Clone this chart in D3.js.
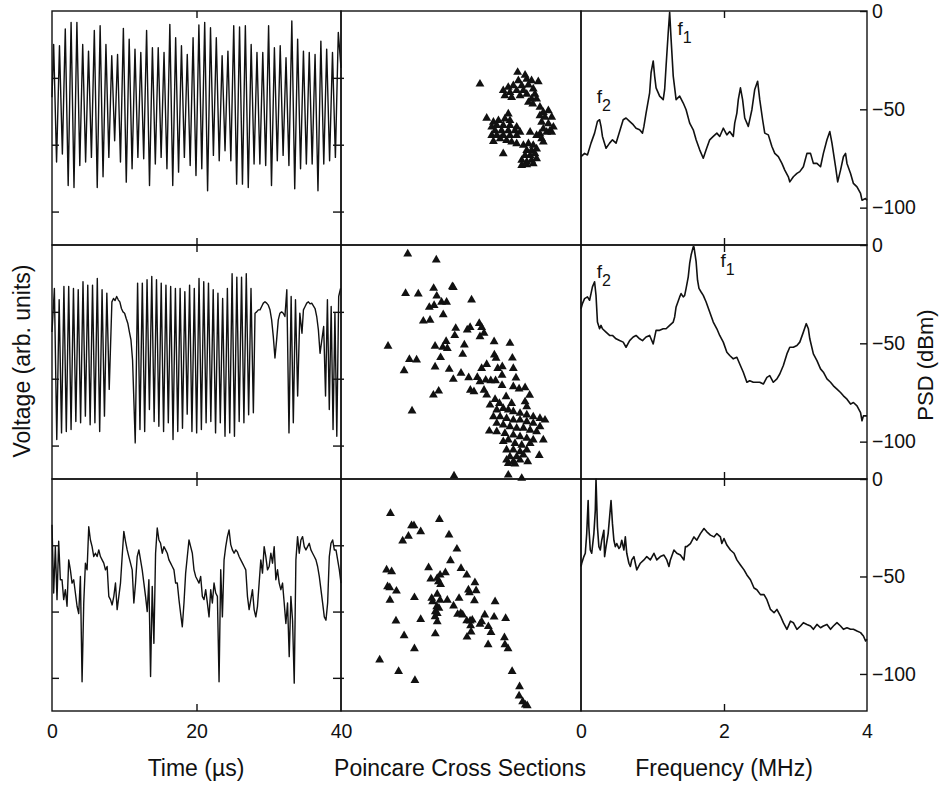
<!DOCTYPE html>
<html><head><meta charset="utf-8">
<script src="https://cdn.jsdelivr.net/npm/d3@7"></script>
<style>
body{margin:0;background:#fff;}
text{font-family:"Liberation Sans",Arial,Helvetica,sans-serif;fill:#111;}
</style></head>
<body><svg id="c" width="942" height="785"></svg>
<script>
// ---------------- DATA ----------------
const timeTicks = [0, 20, 40];
const freqTicks = [0, 2, 4];
const psdTicks = [0, -50, -100];
const voltTicks = [-1, 0, 1];

// Row 1 time series: alternating peaks/troughs (arb. units), first peak at 0.23 µs, half period 0.402 µs
const topStart = [0, 0.71];
const topEnd = [40, 1.15];
const topPeaks = [1.50,1.48,1.73,1.83,1.83,1.50,1.40,1.71,1.78,1.50,1.33,1.35,1.74,1.58,1.43,1.38,1.71,1.45,1.45,1.38,
  1.80,1.60,1.48,1.35,1.60,1.79,1.83,1.75,1.60,1.33,1.40,1.78,1.76,1.78,1.50,1.38,1.38,1.78,1.45,1.48,
  1.30,1.85,1.58,1.40,1.38,1.35,1.55,1.43,1.38,1.68];
const topTroughs = [-0.26,-0.14,-0.61,-0.64,-0.31,-0.26,-0.19,-0.64,-0.48,-0.19,0.06,-0.26,-0.56,-0.36,-0.19,-0.21,-0.61,-0.29,-0.19,-0.36,
  -0.61,-0.41,-0.19,-0.31,-0.46,-0.36,-0.69,-0.16,-0.24,-0.09,-0.24,-0.59,-0.59,-0.64,-0.29,-0.29,-0.31,-0.61,-0.24,-0.16,
  -0.31,-0.66,-0.36,-0.29,-0.29,-0.69,-0.29,-0.24,-0.19];
const topT0 = 0.23, topHalf = 0.402;

// Row 2 time series: runs of evenly spaced samples [start µs, step µs, values]
const midSegments = [
  [0, 0.33, [0.70,1.35,-0.91,1.18,-0.81,1.38,-0.79,1.38,-0.76,1.35,-0.64,1.33,-0.66,1.45,-0.56,1.40,-0.69,1.40,-0.66,1.50,-0.79,1.33,-0.56,1.28,-0.16]],
  [8.29, 0.22, [1.15,1.20,1.17,1.23,1.18,1.15,1.05,1.00,0.98,0.90,0.83,0.70,0.58,0.28]],
  [11.52, 0.327, [-0.96,1.43,-0.76,1.43,-0.79,1.48,-0.46,1.53,-0.64,1.48,-0.71,1.43,-0.79,1.40,-0.66,1.38,-0.91,1.35,-0.79,1.35,-0.74,1.30,-0.53,1.40,-0.79,1.35,-0.81,1.50,-0.76,1.45,-0.66,1.43,-0.64,1.33,-0.81,1.28,-0.66,1.20,-0.86,1.35,-0.81,1.57,-0.86,1.52,-0.64,1.52,-0.66,1.57,-0.54,1.35,-0.51]],
  [28.1, 0.23, [0.98,1.00,1.03,1.03,1.08,1.13,1.15,1.13,1.10,1.03,0.88,0.63,0.31,0.58,0.88,0.98,1.00,0.98,0.93]],
  [32.5, 0.30, [1.33,-0.81,1.23,-0.66,1.18,-0.26,0.98,0.68]],
  [34.8, 0.23, [1.03,1.08,1.13,1.15,1.12,1.13,1.09,1.05,0.93,0.73,0.38]],
  [37.6, 0.26, [0.78,-0.26,1.18,-0.46,1.08,-0.76,0.98,-0.86,1.23,1.35]]
];

// Row 3 time series: evenly sampled over 0–40 µs
const bottomV = [1.31,0.28,0.98,0.18,1.06,0.48,0.48,0.18,0.33,0.08,0.78,0.63,0.43,0.48,0.28,0.08,-0.03,0.53,-1.06,0.13,
  0.73,0.63,1.28,1.08,0.98,0.83,0.88,0.83,0.93,0.83,0.78,0.73,0.63,0.68,0.23,0.18,0.10,0.23,0.43,0.03,
  0.23,0.43,0.83,1.21,1.06,0.93,0.83,0.73,0.63,0.13,0.43,0.83,0.93,0.78,0.63,0.43,0.23,0.00,0.48,-0.98,
  0.38,-0.48,0.88,1.26,1.08,1.03,0.88,0.98,0.93,0.88,0.78,0.73,0.68,0.63,0.43,0.43,0.18,-0.03,-0.23,0.13,
  0.58,0.83,1.08,0.98,0.88,0.63,0.53,0.48,0.43,0.53,0.23,0.18,0.33,0.13,-0.08,0.33,0.13,0.43,0.28,0.23,
  -1.06,0.63,-0.08,0.78,0.98,1.13,1.23,1.01,0.93,0.88,0.93,0.90,0.83,0.78,0.73,0.68,0.63,0.23,0.03,0.18,
  0.33,0.03,-0.08,0.08,0.43,0.78,0.58,0.98,0.83,0.63,0.68,0.88,0.73,0.98,0.48,0.63,0.43,0.33,0.43,0.13,
  -0.18,0.13,-0.68,0.23,-0.13,-1.08,0.78,1.13,0.88,1.08,1.13,0.98,0.93,0.98,1.03,0.93,0.88,0.83,0.78,0.68,
  0.53,0.33,0.13,-0.08,-0.13,0.13,0.83,1.03,1.08,0.93,0.93,0.78,0.63,0.43];

// Poincaré sections (arbitrary units 0–100)
const poincareTop = [[73.6,73.8],[76.7,72.6],[73.9,70.2],[77.4,70.9],[79.4,70.2],[82.2,69.8],[71.8,68.1],[75.3,68.1],[78.1,68.4],[69.7,67.4],
  [67.6,66.0],[70.4,65.2],[73.2,66.0],[76.0,66.0],[80.1,66.7],[68.3,63.8],[71.1,63.1],[74.6,63.8],[77.4,64.5],[80.8,64.5],
  [79.4,62.4],[78.1,61.0],[81.5,62.4],[79.9,60.3],[57.9,68.8],
  [82.9,58.9],[86.4,57.4],[84.3,56.7],[82.9,55.3],[85.0,54.6],[87.8,54.6],[83.6,52.5],[86.4,51.8],[88.5,50.4],[84.3,49.6],
  [87.1,48.9],[82.9,47.5],[85.7,48.2],[87.8,48.2],[81.5,46.8],[84.3,44.0],[83.6,45.4],
  [60.7,54.2],[69.7,56.0],[63.5,52.5],[65.6,53.2],[68.3,53.9],[70.4,53.2],[62.8,50.4],[64.9,51.1],[67.6,51.1],[70.4,51.1],
  [73.2,50.4],[64.2,48.9],[66.9,48.9],[69.7,48.9],[72.5,48.9],[74.6,48.2],[62.8,46.8],[64.9,46.8],[67.6,46.8],[70.4,46.8],
  [73.2,46.8],[63.5,44.3],[66.3,45.4],[69.0,44.7],[71.1,44.0],[73.2,43.3],[78.8,48.2],
  [76.0,42.6],[78.1,43.3],[80.1,42.6],[77.4,40.4],[79.4,40.4],[81.5,41.1],[76.7,38.3],[78.8,38.3],[80.8,39.0],[75.3,36.2],
  [77.4,35.5],[79.4,36.2],[75.3,34.0],[77.4,34.3],[80.1,34.8],[67.6,39.0],[81.5,36.9]];
const poincareMid = [[27.8,96.2],[39.7,93.6],[26.9,79.3],[32.2,79.1],[38.6,81.5],[46.4,82.2],[46.8,81.9],[39.9,78.2],[41.9,75.6],[44.0,75.6],
  [54.4,76.5],[36.8,73.4],[38.8,74.2],[42.6,70.2],[34.3,67.5],[37.1,67.9],[47.8,64.4],[47.4,61.3],[52.6,63.7],[53.8,64.8],
  [57.6,66.5],[58.6,64.8],[57.9,60.8],[59.6,62.3],[19.6,56.8],[39.2,56.8],[42.4,56.3],[43.8,58.8],[44.3,55.8],[51.4,57.3],
  [63.8,58.7],[70.4,58.0],[28.5,51.1],[31.5,50.9],[41.5,51.9],[50.7,53.3],[63.9,53.0],[64.6,51.6],[71.4,51.7],[26.3,46.3],
  [39.2,47.9],[45.1,46.9],[50.0,45.2],[60.7,49.0],[58.6,47.3],[65.3,47.3],[67.2,48.0],[71.8,47.3],[46.8,42.6],[53.2,43.3],
  [56.8,43.4],[57.9,41.6],[60.3,42.3],[62.4,42.0],[64.4,42.0],[67.1,44.4],[72.9,43.2],[38.5,35.9],[40.7,37.6],[53.9,38.0],
  [55.4,37.3],[59.6,38.0],[60.7,35.9],[67.1,40.0],[71.8,39.5],[74.2,38.5],[76.7,39.0],[78.6,35.8],[29.6,29.1],[62.1,31.6],
  [64.2,34.0],[66.0,32.3],[68.8,35.2],[71.1,32.3],[76.7,33.0],[77.4,30.9],
  [64.9,29.5],[67.6,30.2],[69.7,29.5],[71.8,28.8],[74.6,28.1],[77.4,27.4],[80.1,26.6],[82.9,25.9],[85.0,25.2],[63.5,26.6],
  [66.3,26.6],[69.0,25.9],[71.8,25.2],[74.6,25.2],[77.4,24.5],[80.1,23.8],[82.9,22.4],[64.9,23.8],[67.6,23.1],[70.4,22.4],
  [73.2,21.7],[76.0,21.7],[78.8,20.9],[81.5,20.2],[61.8,20.5],[64.9,20.2],[68.3,19.5],[71.8,18.8],[74.6,18.1],[77.4,17.4],
  [80.1,16.7],[84.3,16.7],[67.6,16.0],[69.7,16.7],[72.5,15.2],[75.3,14.5],[78.8,15.2],[69.0,12.4],[71.8,12.4],[74.6,11.7],
  [77.4,12.4],[70.4,9.5],[73.2,9.5],[76.0,10.3],[82.6,10.1],[69.0,8.1],[71.8,7.4],[74.6,8.1],[77.8,7.4],[69.7,6.7],
  [72.5,6.4],[47.1,1.3],[69.7,1.7],[75.3,0.3]];
const poincareBottom = [[20.6,85.2],[41.0,82.6],[29.4,79.9],[30.4,79.9],[28.1,75.4],[25.7,73.3],[33.2,77.3],[45.0,75.9],[48.3,69.8],[45.6,64.8],
  [19.0,60.8],[21.1,60.1],[36.5,61.8],[50.0,61.5],[37.4,56.9],[40.1,57.2],[41.3,58.6],[43.5,59.6],[40.6,55.7],[41.5,54.6],
  [52.4,58.6],[55.8,55.3],[56.3,51.9],[53.1,52.2],[53.5,51.0],[19.4,53.6],[20.3,53.2],[23.1,51.7],[20.4,47.8],[30.6,48.9],
  [37.8,48.6],[38.2,47.1],[40.1,50.4],[41.3,47.8],[44.3,47.8],[49.2,48.6],[55.6,47.6],[64.2,47.1],[46.9,45.3],[39.9,45.0],
  [40.8,44.3],[39.3,42.8],[40.1,42.1],[39.2,40.7],[40.1,38.5],[48.6,41.7],[49.9,42.1],[50.7,41.4],[52.4,38.9],[53.8,38.8],
  [54.7,39.2],[54.0,36.8],[57.9,37.4],[58.6,38.5],[59.9,41.4],[61.4,36.4],[63.8,40.5],[62.5,33.9],[68.6,39.9],[22.9,38.8],
  [33.2,39.5],[39.3,33.3],[54.2,34.1],[52.5,31.9],[26.3,32.5],[61.3,28.6],[68.1,31.6],[68.3,28.6],[69.6,26.9],[30.6,26.9],
  [16.1,22.0],[24.0,17.1],[30.8,13.2],[71.3,17.1],[74.4,10.5],[74.2,6.5],[75.7,4.0],[76.8,2.6],[77.6,2.3]];

// Power spectral density [MHz, dBm]
const psdTop = [[0,-74.1],[0.05,-72.4],[0.09,-73.2],[0.14,-67.2],[0.19,-62.1],[0.23,-56.1],[0.26,-55.3],[0.28,-58.7],[0.30,-63.8],[0.35,-69.8],
  [0.40,-67.2],[0.44,-65.5],[0.49,-67.2],[0.54,-61.3],[0.59,-55.3],[0.63,-54.4],[0.68,-56.1],[0.73,-57.8],[0.77,-59.6],[0.82,-60.4],
  [0.86,-62.1],[0.88,-58.7],[0.91,-51.9],[0.96,-41.6],[0.98,-31.4],[1.01,-25.4],[1.03,-33.1],[1.05,-39.1],[1.10,-43.3],[1.15,-45.1],
  [1.17,-39.9],[1.19,-28],[1.22,-10.9],[1.24,-0.7],[1.26,-14.3],[1.29,-33.1],[1.33,-45.1],[1.38,-43.3],[1.43,-46.8],[1.47,-50.2],
  [1.52,-57],[1.57,-60.4],[1.61,-65.5],[1.66,-70.6],[1.71,-74.9],[1.75,-70.6],[1.80,-65.5],[1.85,-63.8],[1.90,-62.1],[1.94,-63.8],
  [1.99,-59.6],[2.04,-63],[2.08,-61.3],[2.13,-63.8],[2.15,-57],[2.18,-51.9],[2.20,-45.1],[2.23,-39.1],[2.26,-45.1],[2.29,-54.4],
  [2.34,-58.7],[2.39,-50.2],[2.43,-39.9],[2.47,-35.7],[2.50,-45.1],[2.54,-55.3],[2.57,-62.1],[2.62,-63],[2.67,-68.9],[2.71,-72.4],
  [2.76,-74.1],[2.81,-77.5],[2.85,-80.9],[2.90,-84.3],[2.92,-86.9],[2.97,-84.3],[3.02,-82.6],[3.06,-81.7],[3.11,-79.2],[3.16,-72.4],
  [3.21,-72.4],[3.25,-77.5],[3.30,-77.5],[3.35,-79.2],[3.39,-72.4],[3.44,-65.5],[3.48,-61.3],[3.51,-67.2],[3.56,-79.2],[3.59,-86.9],
  [3.63,-80.9],[3.67,-74.1],[3.70,-72.4],[3.72,-77.5],[3.77,-82.6],[3.81,-87.7],[3.86,-89.4],[3.91,-92.8],[3.93,-96.2],[3.98,-95.4],[4.0,-96.2]];
const psdMid = [[0,-32.4],[0.02,-29.8],[0.05,-27.3],[0.09,-26.4],[0.12,-28.1],[0.14,-24.7],[0.16,-21.3],[0.19,-18.7],[0.21,-25.6],[0.23,-39.2],
  [0.26,-42.6],[0.28,-40.9],[0.30,-42.6],[0.35,-44.3],[0.40,-46],[0.44,-46],[0.49,-47.7],[0.54,-48.6],[0.59,-49.4],[0.63,-52],
  [0.68,-48.6],[0.73,-46.8],[0.77,-46],[0.82,-47.7],[0.86,-48.6],[0.91,-46.8],[0.96,-46],[1.01,-50.3],[1.05,-43.4],[1.10,-43.4],
  [1.15,-42.6],[1.19,-42.6],[1.24,-40.9],[1.29,-39.2],[1.31,-36.6],[1.33,-31.5],[1.38,-26.4],[1.40,-24.7],[1.43,-26.4],[1.45,-25.6],
  [1.47,-22.1],[1.50,-16.2],[1.52,-9.4],[1.54,-5.1],[1.57,-0.9],[1.58,-0.9],[1.61,-8.5],[1.63,-17.9],[1.65,-22.1],[1.68,-23.9],
  [1.71,-25.6],[1.75,-29],[1.80,-34.1],[1.85,-39.2],[1.90,-42.6],[1.94,-46],[1.99,-49.4],[2.04,-54.5],[2.08,-56.2],[2.13,-57.9],
  [2.18,-57.1],[2.22,-60.5],[2.27,-64.7],[2.32,-69.8],[2.36,-69],[2.41,-69.8],[2.46,-69.8],[2.50,-69.8],[2.55,-70.7],[2.60,-67.3],
  [2.64,-66.4],[2.69,-69.8],[2.74,-68.1],[2.78,-65.6],[2.83,-61.3],[2.88,-55.4],[2.92,-52],[2.97,-52],[3.02,-51.1],[3.06,-49.4],
  [3.11,-44.3],[3.15,-40],[3.18,-42.6],[3.20,-47.7],[3.25,-55.4],[3.30,-58.8],[3.35,-63],[3.39,-64.7],[3.44,-68.1],[3.49,-69.8],
  [3.53,-71.6],[3.58,-73.3],[3.63,-75],[3.67,-76.7],[3.72,-78.4],[3.77,-80.9],[3.81,-80.1],[3.86,-81.8],[3.91,-85.2],[3.93,-89.4],[3.95,-86.9],[4.0,-86.9]];
const psdBottom = [[0,-44.9],[0.01,-43.2],[0.04,-39.8],[0.06,-38.1],[0.08,-28],[0.10,-11],[0.11,-24.6],[0.13,-36.4],[0.15,-38.1],[0.18,-28],
  [0.20,-16.1],[0.21,0],[0.23,-24.6],[0.25,-34.7],[0.27,-36.4],[0.29,-31.4],[0.32,-26.3],[0.33,-39.8],[0.35,-34.7],[0.38,-28],
  [0.40,-19.5],[0.42,-11],[0.44,-22.9],[0.46,-31.4],[0.48,-34.7],[0.50,-33.1],[0.53,-35.6],[0.55,-34.7],[0.57,-31.4],[0.60,-36.4],
  [0.62,-29.7],[0.64,-38.1],[0.67,-43.2],[0.69,-44.9],[0.71,-41.5],[0.74,-39.8],[0.76,-43.2],[0.78,-46.6],[0.83,-43.2],[0.88,-41.5],
  [0.92,-39.8],[0.97,-41.5],[1.02,-38.1],[1.06,-41.5],[1.11,-39.8],[1.16,-39],[1.20,-41.5],[1.23,-44.9],[1.25,-41.5],[1.30,-36.4],
  [1.34,-38.1],[1.39,-39],[1.44,-41.5],[1.46,-34.7],[1.48,-34.7],[1.53,-33.1],[1.58,-29.7],[1.62,-31.4],[1.67,-28],[1.72,-25.4],
  [1.76,-27.1],[1.81,-28.8],[1.86,-29.7],[1.90,-28],[1.95,-29.7],[1.97,-33.1],[2.00,-30.5],[2.04,-33.9],[2.09,-36.4],[2.14,-38.1],
  [2.18,-41.5],[2.23,-44.1],[2.28,-46.6],[2.32,-49.2],[2.37,-51.7],[2.42,-55.9],[2.46,-56.8],[2.51,-59.3],[2.56,-59.3],[2.60,-61.9],
  [2.65,-66.9],[2.70,-68.6],[2.74,-66.9],[2.79,-70.3],[2.83,-73.7],[2.88,-77.1],[2.93,-72.9],[2.97,-73.7],[3.02,-77.1],[3.07,-75.4],
  [3.11,-73.7],[3.16,-74.6],[3.21,-75.4],[3.25,-77.1],[3.30,-74.6],[3.35,-76.3],[3.39,-75.4],[3.44,-74.6],[3.49,-77.1],[3.53,-75.4],
  [3.58,-73.7],[3.63,-75.4],[3.67,-77.1],[3.72,-76.3],[3.77,-77.1],[3.81,-77.1],[3.86,-78],[3.91,-78.8],[3.95,-80.5],[3.98,-83.1],[4.0,-82.2]];

// Peak annotations [MHz, dBm, subscript] per row
const annotTop = [[1.35, -12, "1"], [0.22, -47, "2"]];
const annotMid = [[0.22, -17, "2"], [1.95, -11, "1"]];

// ---------------- BUILD SERIES ----------------
const seriesTop = [topStart];
topPeaks.forEach((p, i) => {
  seriesTop.push([topT0 + 2 * i * topHalf, p]);
  if (i < topTroughs.length) seriesTop.push([topT0 + (2 * i + 1) * topHalf, topTroughs[i]]);
});
seriesTop.push(topEnd);
const seriesMid = [];
midSegments.forEach(([t0, dt, vals]) => vals.forEach((v, i) => seriesMid.push([t0 + i * dt, v])));
const seriesBottom = bottomV.map((v, i) => [i * 40 / (bottomV.length - 1), v]);

// ---------------- LAYOUT ----------------
const svg = d3.select("#c");
const X0 = 52, X1 = 341, X2 = 581, X3 = 867;
const rows = [[11, 245], [245, 479], [479, 711]];
const tScale = d3.scaleLinear([0, 40], [X0, X1]);
const fScale = d3.scaleLinear([0, 4], [X2, X3]);
const pX = d3.scaleLinear([0, 100], [X1, X2]);

const ts = [seriesTop, seriesMid, seriesBottom];
const ps = [poincareTop, poincareMid, poincareBottom];
const psd = [psdTop, psdMid, psdBottom];
const annots = [annotTop, annotMid, []];
const SW = 1.4;
const FONT = "Liberation Sans, Arial, sans-serif";

rows.forEach(([top, bot], r) => {
  const vScale = d3.scaleLinear([-1.5, 2.0], [bot, top]);
  const dbScale = d3.scaleLinear([-119, 0], [bot, top]);
  const pY = d3.scaleLinear([0, 100], [bot, top]);
  const g = svg.append("g");

  // time series
  g.append("path").datum(ts[r])
    .attr("d", d3.line().x(d => tScale(d[0])).y(d => vScale(d[1])))
    .attr("fill", "none").attr("stroke", "#111").attr("stroke-width", 1.4).attr("stroke-linejoin", "round");

  // poincare
  g.selectAll(".pt").data(ps[r]).join("path")
    .attr("transform", d => `translate(${pX(d[0])},${pY(d[1])})`)
    .attr("d", d3.symbol(d3.symbolTriangle, 34)())
    .attr("fill", "#111");

  // psd
  g.append("path").datum(psd[r])
    .attr("d", d3.line().x(d => fScale(d[0])).y(d => dbScale(d[1])))
    .attr("fill", "none").attr("stroke", "#111").attr("stroke-width", 1.6).attr("stroke-linejoin", "round");

  // annotations
  annots[r].forEach(([f, db, sub]) => {
    const t = g.append("text").attr("x", fScale(f)).attr("y", dbScale(db))
      .attr("font-size", 19);
    t.append("tspan").text("f");
    t.append("tspan").attr("dy", 8).attr("font-size", 16).text(sub);
  });

  // frames
  [[X0, X1], [X1, X2], [X2, X3]].forEach(([a, b]) => {
    g.append("rect").attr("x", a).attr("y", top).attr("width", b - a).attr("height", bot - top)
      .attr("fill", "none").attr("stroke", "#111").attr("stroke-width", SW);
  });

  // voltage ticks (inward on both sides of time panel)
  g.append("g").attr("transform", `translate(${X0},0)`)
    .call(d3.axisLeft(vScale).tickValues(voltTicks).tickSize(-7).tickFormat(""));
  g.append("g").attr("transform", `translate(${X1},0)`)
    .call(d3.axisRight(vScale).tickValues(voltTicks).tickSizeInner(-8).tickSizeOuter(0).tickFormat(""));
  g.append("g").attr("transform", `translate(${X1},0)`)
    .call(d3.axisRight(vScale).tickValues(voltTicks).tickSizeInner(3).tickSizeOuter(0).tickFormat(""));

  // PSD axis on right
  const ay = g.append("g").attr("transform", `translate(${X3},0)`)
    .call(d3.axisRight(dbScale).tickValues(psdTicks).tickSizeInner(-7).tickSizeOuter(0).tickPadding(5));
  ay.selectAll("text").attr("font-size", 19.5).attr("font-family", FONT).attr("fill", "#111");

  // middle x ticks on top and bottom of each row
  [[top, 1], [bot, -1]].forEach(([yy, dir]) => {
    g.append("g").attr("transform", `translate(0,${yy})`)
      .call(d3.axisBottom(tScale).tickValues([20]).tickSizeInner(dir * 7).tickSizeOuter(0).tickFormat(""));
    g.append("g").attr("transform", `translate(0,${yy})`)
      .call(d3.axisBottom(fScale).tickValues([2]).tickSizeInner(dir * 7).tickSizeOuter(0).tickFormat(""));
  });
});
svg.selectAll(".tick line").attr("stroke", "#111").attr("stroke-width", SW);
svg.selectAll(".domain").remove();

// bottom axes with labels
const bx = svg.append("g").attr("transform", `translate(0,${rows[2][1]})`)
  .call(d3.axisBottom(tScale).tickValues(timeTicks).tickSize(0).tickPadding(13).tickFormat(d3.format("d")));
const bf = svg.append("g").attr("transform", `translate(0,${rows[2][1]})`)
  .call(d3.axisBottom(fScale).tickValues(freqTicks).tickSize(0).tickPadding(13).tickFormat(d3.format("d")));
[bx, bf].forEach(a => {
  a.select(".domain").remove();
  a.selectAll("text").attr("font-size", 19.5).attr("font-family", FONT).attr("fill", "#111");
});

// titles
const ttl = (x, y, s, rot, fs) => svg.append("text").attr("x", x).attr("y", y)
  .attr("text-anchor", "middle").attr("font-size", fs || 23)
  .attr("transform", rot ? `rotate(-90,${x},${y})` : null).text(s);
ttl(196, 776, "Time (µs)");
ttl(460, 776, "Poincare Cross Sections");
ttl(724, 776, "Frequency (MHz)");
ttl(30, 361, "Voltage (arb. units)", true);
ttl(933, 365, "PSD (dBm)", true, 22);
</script></body></html>
